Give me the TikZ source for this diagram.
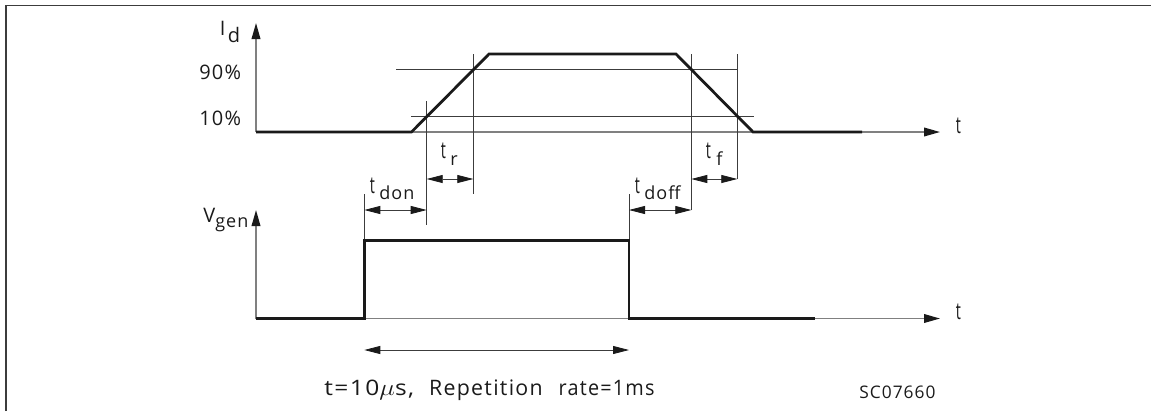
\documentclass[tikz,border=0pt]{standalone}
\usepackage{fontspec}
\setmainfont{Open Sans}[LetterSpace=6]
\usetikzlibrary{arrows.meta}
\definecolor{ink}{HTML}{1A1A1A}
\definecolor{axisgray}{HTML}{808080}
\definecolor{thin}{HTML}{3C3C3C}
\newcommand{\tallt}{\scalebox{0.72}[1.18]{t}}
\tikzset{
 frameline/.style={draw=thin,line width=1.3pt},
 axisline/.style={draw=axisgray,line width=1.1pt},
 signal/.style={draw=ink,line width=2.1pt,line join=miter},
 guide/.style={draw=thin,line width=0.6pt},
 dim/.style={draw=thin,line width=0.6pt,{Triangle[length=12pt,width=6pt,color=ink]}-{Triangle[length=12pt,width=6pt,color=ink]}},
 axisarrow/.style={axisline,-{Triangle[length=12pt,width=6.5pt,color=ink]}},
 lab/.style={inner sep=0pt,text=ink,font=\fontsize{15}{17}\selectfont,anchor=base west},
 sub/.style={inner sep=0pt,text=ink,font=\fontsize{13.5}{15}\selectfont,anchor=base west},
}
\begin{document}
\begin{tikzpicture}[x=0.75pt,y=-0.75pt]
\useasboundingbox (0,0) rectangle (1151,411);
% frame
\coordinate (fa) at (6,411); \coordinate (fb) at (6,5.5); \coordinate (fc) at (1151,5.5);
\draw[frameline] (fa) -- (fb) -- (fc);
% coordinates
\coordinate (o1) at (256,132); \coordinate (y1) at (256,23); \coordinate (x1) at (940,132);
\coordinate (o2) at (256,318.5); \coordinate (y2) at (256,210); \coordinate (x2) at (940,318.5);
% axes
\draw[axisarrow] (o1) -- (y1);
\draw[axisarrow] (o1) -- (x1);
\draw[axisarrow] (o2) -- (y2);
\draw[axisarrow] (o2) -- (x2);
% guides
\coordinate (g90a) at (396,69.7); \coordinate (g90b) at (737.3,69.7);
\coordinate (g10a) at (411,116.3); \coordinate (g10b) at (754,116.3);
\draw[guide] (g90a) -- (g90b);
\draw[guide] (g10a) -- (g10b);
\coordinate (v1a) at (426.7,101); \coordinate (v1b) at (426.7,225);
\coordinate (v2a) at (473.3,54); \coordinate (v2b) at (473.3,194);
\coordinate (v3a) at (691.3,54); \coordinate (v3b) at (691.3,210);
\coordinate (v4a) at (737.3,54); \coordinate (v4b) at (737.3,179);
\coordinate (v5a) at (364.3,194); \coordinate (v5b) at (364.3,240);
\coordinate (v6a) at (629,194); \coordinate (v6b) at (629,240);
\foreach \a/\b in {v1a/v1b,v2a/v2b,v3a/v3b,v4a/v4b,v5a/v5b,v6a/v6b}{\draw[guide] (\a) -- (\b);}
% signals
\coordinate (s1) at (411.5,132); \coordinate (s2) at (489,54); \coordinate (s3) at (676,54);
\coordinate (s4) at (753,132); \coordinate (s5) at (862,132);
\draw[signal] (o1) -- (s1) -- (s2) -- (s3) -- (s4) -- (s5);
\coordinate (p1) at (364.3,318.5); \coordinate (p2) at (364.3,240.7);
\coordinate (p3) at (629,240.7); \coordinate (p4) at (629,318.5); \coordinate (p5) at (815,318.5);
\draw[signal] (o2) -- (p1) -- (p2) -- (p3) -- (p4) -- (p5);
% dimension arrows
\coordinate (tr1) at (426.7,179); \coordinate (tr2) at (473.3,179);
\coordinate (tf1) at (691.3,179); \coordinate (tf2) at (737.3,179);
\coordinate (don1) at (364.3,210); \coordinate (don2) at (426.7,210);
\coordinate (dof1) at (629,210); \coordinate (dof2) at (691.3,210);
\coordinate (w1) at (364.3,350); \coordinate (w2) at (629,350);
\draw[dim] (tr1) -- (tr2);
\draw[dim] (tf1) -- (tf2);
\draw[dim] (don1) -- (don2);
\draw[dim] (dof1) -- (dof2);
\draw[dim] (w1) -- (w2);
% labels
\node[lab] (id1) at (219.5,35) {I};
\node[lab] (id2) at (227.5,42) {d};
\node[lab] (p90) at (199,79) {90\%};
\node[lab] (p10) at (199,125.5) {10\%};
\node[lab] (t1) at (955.5,133) {\tallt};
\node[lab] (t2) at (955.5,319) {\tallt};
\node[lab] (vg) at (203,222) {V};
\node[sub] (vg2) at (215,227) {gen};
\node[lab] (tr) at (440.5,158) {\tallt};
\node[sub] (tr2l) at (450,165) {r};
\node[lab] (tf) at (705.5,158) {\tallt};
\node[sub] (tf2l) at (716,165) {f};
\node[lab] (td) at (369.5,193) {\tallt};
\node[sub] (td2) at (379,199) {don};
\node[lab] (tg) at (634.5,193) {\tallt};
\node[sub] (tg2) at (644,199) {doff};
\node[lab,font=\fontsize{16}{18}\selectfont] (cap) at (324,395) {\scalebox{1.15}[1]{t=10$\mu$s,}\hspace{0.7em}Repetition\hspace{0.75em}\scalebox{0.93}[1]{rate=1ms}};
\node[lab,font=\fontsize{13}{15}\selectfont] (sc) at (859,398) {SC07660};
\end{tikzpicture}
\end{document}
